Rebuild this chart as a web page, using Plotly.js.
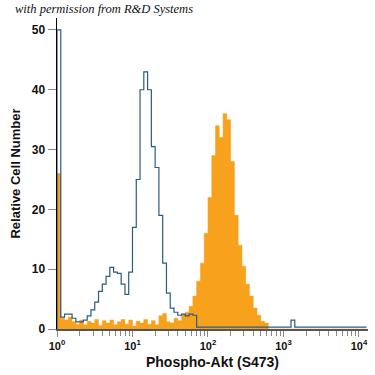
<!DOCTYPE html>
<html><head><meta charset="utf-8">
<script src="https://cdn.plot.ly/plotly-3.0.1.min.js"></script>
<style>html,body{margin:0;padding:0;background:#fff}#chart{width:375px;height:375px}</style>
</head><body><div id="chart"></div>
<script>
// Histogram bins: each bin spans 0.05 decades, starting at 10^0
const binStartLog = 0;
const binWidthLog = 0.05;

// Isotype / control (blue outline)
const controlCounts = [
  50, 2.0, 2.5, 2.5, 1.8, 1.2, 1.2, 1.5, 2.2, 3.2,
  4.5, 6.3, 7.5, 8.8, 10.3, 9.5, 9.3, 7.5, 5.8, 9.5,
  17, 25, 40, 43, 40, 30.5, 27, 19, 11, 6,
  3.5, 2.8, 2.3, 2.5, 2.2, 2.5, 2.3, 0.3, 0.3, 0.3,
  0.3, 0.3, 0.3, 0.3, 0.3, 0.3, 0.3, 0.3, 0.3, 0.3,
  0.3, 0.3, 0.3, 0.3, 0.3, 0.3, 0.3, 0.3, 0.3, 0.3,
  0.3, 0.3, 1.5, 0.3, 0.3, 0.3, 0.3, 0.3, 0.3, 0.3,
  0.3, 0.3, 0.3, 0.3, 0.3, 0.3, 0.3, 0.3, 0.3, 0.3,
  0.3, 0.3
];

// Phospho-Akt (S473) stained (orange filled)
const stainedCounts = [
  26, 1.8, 1.5, 2.0, 1.2, 0.8, 1.5, 0.7, 1.3, 1.0,
  1.6, 0.6, 1.4, 1.0, 1.5, 0.7, 1.2, 1.6, 0.8, 1.5,
  0.5, 1.3, 1.0, 1.6, 0.8, 1.4, 0.7, 2.2, 2.6, 1.2,
  1.0, 1.8, 1.4, 2.4, 2.8, 3.8, 5.5, 8, 11, 16,
  22, 29, 34, 32, 36, 35, 28, 19, 14, 10.5,
  7.5, 5.5, 3.5, 2.3, 1.3, 1.0, 0, 0, 0, 0,
  0, 0, 0, 0, 0, 0, 0, 0, 0, 0,
  0, 0, 0, 0, 0, 0, 0, 0, 0, 0,
  0, 0
];

const xTickVals = [1, 10, 100, 1000, 10000];
const xTickText = ['10<sup>0</sup>', '10<sup>1</sup>', '10<sup>2</sup>', '10<sup>3</sup>', '10<sup>4</sup>'];
const yTickVals = [0, 10, 20, 30, 40, 50];

function stepXY(counts) {
  const xs = [Math.pow(10, binStartLog)], ys = [0];
  for (let i = 0; i < counts.length; i++) {
    xs.push(Math.pow(10, binStartLog + i * binWidthLog));
    ys.push(counts[i]);
  }
  xs.push(Math.pow(10, binStartLog + counts.length * binWidthLog));
  ys.push(counts[counts.length - 1]);
  return {xs, ys};
}

const minorVals = [];
for (let d = 0; d < 4; d++) for (let m = 2; m <= 9; m++) minorVals.push(m * Math.pow(10, d));

const s = stepXY(stainedCounts);
const c = stepXY(controlCounts);

const font = "'Liberation Sans Narrow', 'Liberation Sans', Arial, sans-serif";

const data = [
  {x: s.xs, y: s.ys, type: 'scatter', mode: 'lines', line: {shape: 'hv', color: '#F7A11C', width: 0.5},
   fill: 'tozeroy', fillcolor: '#F7A11C', hoverinfo: 'skip'},
  {x: c.xs, y: c.ys, type: 'scatter', mode: 'lines', line: {shape: 'hv', color: '#2a5b83', width: 1.2},
   hoverinfo: 'skip'}
];

const layout = {
  width: 375, height: 375,
  margin: {l: 57, r: 7, t: 18, b: 46},
  paper_bgcolor: '#fff', plot_bgcolor: '#fff',
  showlegend: false,
  xaxis: {
    type: 'log', range: [0, 4.12],
    tickmode: 'array', tickvals: xTickVals, ticktext: xTickText,
    ticks: 'outside', ticklen: 6, tickcolor: '#888', tickwidth: 1,
    showline: true, linecolor: '#555', linewidth: 1.5,
    showgrid: false, zeroline: false,
    tickfont: {family: font, size: 11, color: '#111', weight: 'bold'},
    minor: {tickmode: 'array', tickvals: minorVals, ticks: 'outside', ticklen: 5, tickcolor: '#888', showgrid: false},
    title: {text: 'Phospho-Akt (S473)', font: {family: font, size: 14, color: '#111', weight: 'bold'}, standoff: 6}
  },
  yaxis: {
    range: [0, 52],
    tickmode: 'array', tickvals: yTickVals,
    ticks: 'outside', ticklen: 8, tickcolor: '#888', tickwidth: 1,
    showline: true, linecolor: '#000', linewidth: 1.5,
    showgrid: false, zeroline: false,
    tickfont: {family: font, size: 12, color: '#111', weight: 'bold'},
    title: {text: 'Relative Cell Number', font: {family: font, size: 13, color: '#111', weight: 'bold'}, standoff: 8}
  },
  annotations: [{
    text: 'with permission from R&amp;D Systems', xref: 'paper', yref: 'paper',
    x: -0.14, y: 1.0, xanchor: 'left', yanchor: 'bottom', showarrow: false,
    font: {family: "'Liberation Serif', 'DejaVu Serif', serif", size: 12.5, color: '#111', style: 'italic'}
  }]
};

Plotly.newPlot('chart', data, layout, {displayModeBar: false, staticPlot: true});
</script>
</body></html>
